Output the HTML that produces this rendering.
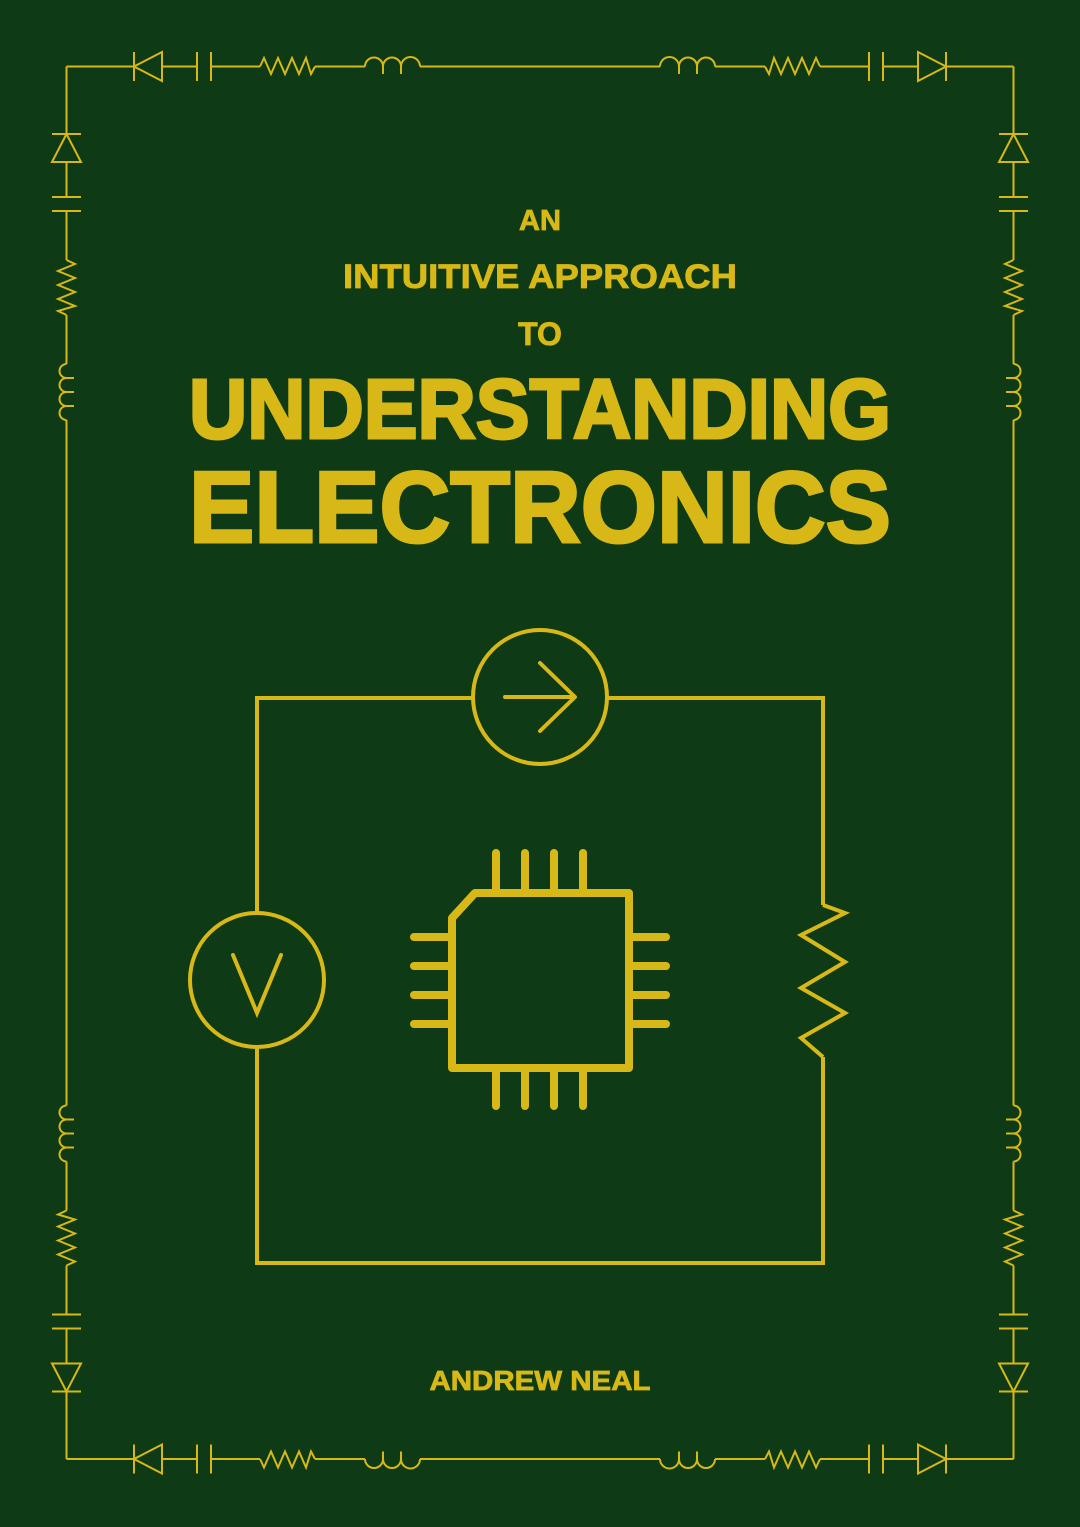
<!DOCTYPE html>
<html><head><meta charset="utf-8"><style>
html,body{margin:0;padding:0;background:#0e3a16;}
svg{display:block;}
text{font-family:"Liberation Sans",sans-serif;font-weight:bold;fill:#d8b817;}
</style></head><body>
<svg width="1080" height="1527" viewBox="0 0 1080 1527" xmlns="http://www.w3.org/2000/svg">
<rect width="1080" height="1527" fill="#0e3a16"/>
<defs>
<g id="q" fill="none" stroke="#d8b817" stroke-width="2">
  <path d="M66.5 66.5 H134 M162 66.5 H197 M211 66.5 H260 M315 66.5 H365 M420 66.5 H541"/>
  <path d="M134 52 V81 M162 52 L134 66.5 L162 81 Z"/>
  <path d="M197 52 V81 M211 52 V81"/>
  <path d="M260 66.5 L264 58 L271 74 L278 58 L285 74 L292 58 L299 74 L306 58 L311 74 L315 66.5"/>
  <path d="M365 66.5 A9 9 0 0 1 383 66.5 A9 9 0 0 1 401 66.5 A9 9 0 0 1 420 66.5 M383 66.5 V74 M401 66.5 V74"/>
  <path d="M66.5 66.5 V134 M66.5 162 V197 M66.5 211 V260 M66.5 315 V364 M66.5 420 V764"/>
  <path d="M52 134 H81 M66.5 134 L52 162 H81 Z"/>
  <path d="M52 197 H81 M52 211 H81"/>
  <path d="M66.5 260 L75 264 L58 271 L75 278 L58 285 L75 292 L58 299 L75 306 L58 311 L66.5 315"/>
  <path d="M66.5 364 A7 7 0 0 0 66.5 378 A7 7 0 0 0 66.5 392 A7 7 0 0 0 66.5 406 A7 7 0 0 0 66.5 420 M66.5 378 H74 M66.5 392 H74 M66.5 406 H74"/>
</g>
</defs>
<use href="#q"/>
<use href="#q" transform="translate(1080,0) scale(-1,1)"/>
<use href="#q" transform="translate(0,1525.5) scale(1,-1)"/>
<use href="#q" transform="translate(1080,1525.5) scale(-1,-1)"/>

<text x="540" y="230" font-size="29" text-anchor="middle" stroke="#d8b817" stroke-width="0.8">AN</text>
<text x="540" y="288" font-size="34" text-anchor="middle" textLength="394" lengthAdjust="spacingAndGlyphs" stroke="#d8b817" stroke-width="0.8">INTUITIVE APPROACH</text>
<text x="540" y="345" font-size="32" text-anchor="middle" stroke="#d8b817" stroke-width="0.8">TO</text>
<text x="540" y="438" font-size="84" text-anchor="middle" textLength="702" lengthAdjust="spacingAndGlyphs" stroke="#d8b817" stroke-width="3">UNDERSTANDING</text>
<text x="540" y="542" font-size="101" text-anchor="middle" textLength="702" lengthAdjust="spacingAndGlyphs" stroke="#d8b817" stroke-width="3">ELECTRONICS</text>
<text x="540" y="1390" font-size="28" text-anchor="middle" textLength="221" lengthAdjust="spacingAndGlyphs" stroke="#d8b817" stroke-width="0.8">ANDREW NEAL</text>

<g fill="none" stroke="#d8b817" stroke-width="4" stroke-linejoin="miter">
  <path d="M257 913 V698 H473 M607 698 H823 V905 M823 1057 V1263 H257 V1047"/>
  <circle cx="540" cy="697" r="67"/>
  <path d="M505 697 H574 M540 663 L575 697 L540 731" stroke-linecap="round" stroke-linejoin="round"/>
  <circle cx="257" cy="980" r="67"/>
  <path d="M233 955 L257 1013 L281 955" stroke-linecap="round"/>
  <path d="M823 905 L845 913 L801 935 L845 962 L801 988 L845 1013 L801 1038 L823 1057"/>
</g>
<g fill="none" stroke="#d8b817" stroke-width="8" stroke-linecap="round" stroke-linejoin="round">
  <path d="M452 918 L475 893 H629 V1068 H452 Z"/>
  <path d="M496 853 V893 M525 853 V893 M554 853 V893 M583 853 V893"/>
  <path d="M496 1068 V1106 M525 1068 V1106 M554 1068 V1106 M583 1068 V1106"/>
  <path d="M414 937 H452 M414 966 H452 M414 995 H452 M414 1024 H452"/>
  <path d="M629 937 H666 M629 966 H666 M629 995 H666 M629 1024 H666"/>
</g>
</svg>
</body></html>
